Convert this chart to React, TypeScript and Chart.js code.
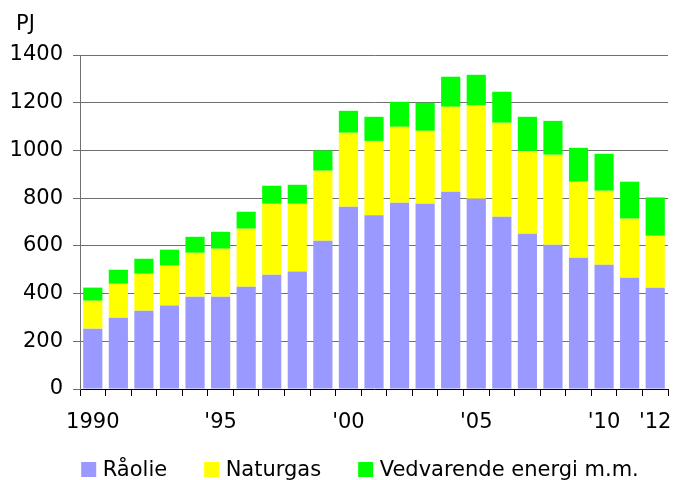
import React, { useEffect, useRef } from "react";
import { Chart, registerables } from "chart.js";

Chart.register(...registerables);

const years = [
  "1990", "1991", "1992", "1993", "1994", "1995", "1996", "1997", "1998", "1999",
  "2000", "2001", "2002", "2003", "2004", "2005", "2006", "2007", "2008", "2009",
  "2010", "2011", "2012",
];
const tickLabels = [
  "1990", "", "", "", "", "'95", "", "", "", "", "'00", "", "", "", "", "'05",
  "", "", "", "", "'10", "", "'12",
];
const raolie = [253, 299, 328, 350, 387, 387, 429, 479, 492, 621, 764, 728, 781, 776, 827, 797, 722, 651, 605, 550, 521, 466, 424];
const naturgas = [117, 142, 155, 167, 184, 201, 243, 297, 284, 294, 310, 312, 318, 306, 356, 391, 394, 347, 377, 319, 310, 248, 218];
const vedvarende = [55, 59, 63, 67, 67, 71, 71, 76, 80, 85, 92, 101, 105, 118, 126, 129, 130, 143, 142, 142, 155, 155, 161];
const seriesNames = ["Råolie", "Naturgas", "Vedvarende energi m.m."];
const yTicks = [0, 200, 400, 600, 800, 1000, 1200, 1400];
const unitLabel = "PJ";

const FONT = "'DejaVu Sans', Verdana, sans-serif";

const extrasPlugin = {
  id: "extras",
  afterDraw(chart: any) {
    const ctx = chart.ctx;
    ctx.save();
    ctx.font = `21px ${FONT}`;
    ctx.fillStyle = "#000";
    ctx.textBaseline = "alphabetic";
    ctx.textAlign = "left";
    ctx.fillText(unitLabel, 16, 30);

    // legend
    const box = 15;
    const gapText = 6.5;
    const gapItem = 37;
    const items = chart.data.datasets.map((d: any) => ({
      text: d.label,
      color: d.backgroundColor,
      w: ctx.measureText(d.label).width,
    }));
    const total =
      items.reduce((s: number, it: any) => s + box + gapText + it.w, 0) +
      gapItem * (items.length - 1);
    let x = 360 - total / 2;
    const boxTop = 462;
    const baseline = 476;
    items.forEach((it: any) => {
      ctx.fillStyle = it.color;
      ctx.fillRect(x, boxTop, box, box);
      ctx.fillStyle = "#000";
      ctx.fillText(it.text, x + box + gapText, baseline);
      x += box + gapText + it.w + gapItem;
    });
    ctx.restore();
  },
};

export default function App() {
  const ref = useRef<HTMLCanvasElement>(null);
  useEffect(() => {
    if (!ref.current) return;
    const chart = new Chart(ref.current, {
      type: "bar",
      data: {
        labels: tickLabels,
        datasets: [
          { label: seriesNames[0], data: raolie, backgroundColor: "#9999FF" },
          { label: seriesNames[1], data: naturgas, backgroundColor: "#FFFF00" },
          { label: seriesNames[2], data: vedvarende, backgroundColor: "#00FF00" },
        ],
      },
      options: {
        animation: false,
        responsive: false,
        layout: { padding: { top: 55, right: 7, bottom: 0, left: 0 } },
        datasets: {
          bar: { barPercentage: 0.75, categoryPercentage: 1, borderWidth: 0 },
        },
        plugins: {
          legend: { display: false },
          tooltip: { enabled: false },
          title: { display: false },
        },
        scales: {
          x: {
            stacked: true,
            offset: true,
            grid: {
              display: true,
              drawOnChartArea: false,
              drawTicks: true,
              tickLength: 7,
              tickColor: "#000",
              offset: true,
            },
            border: { display: true, color: "#000", width: 1 },
            ticks: {
              autoSkip: false,
              maxRotation: 0,
              minRotation: 0,
              padding: 14,
              color: "#000",
              font: { family: FONT, size: 21 },
            },
            afterFit(scale: any) {
              scale.height = 91;
              scale.paddingLeft = 0;
              scale.paddingRight = 0;
            },
          },
          y: {
            stacked: true,
            min: 0,
            max: 1400,
            afterBuildTicks(scale: any) {
              scale.ticks = yTicks.map((v) => ({ value: v }));
            },
            grid: {
              color: (c: any) => (c.tick && c.tick.value === 0 ? "rgba(0,0,0,0)" : "#707070"),
              tickColor: "#707070",
              tickLength: 7,
              lineWidth: 1,
            },
            border: { display: true, color: "#707070", width: 1 },
            ticks: {
              padding: 10,
              color: "#000",
              font: { family: FONT, size: 21 },
              callback: (v: any) => String(v),
            },
            afterFit(scale: any) {
              scale.width = 80;
            },
          },
        },
      },
      plugins: [extrasPlugin],
    });
    return () => chart.destroy();
  }, []);
  return (
    <div style={{ position: "fixed", left: 0, top: 0, width: 675, height: 480, background: "#fff" }}>
      <canvas ref={ref} width={675} height={480} />
    </div>
  );
}
